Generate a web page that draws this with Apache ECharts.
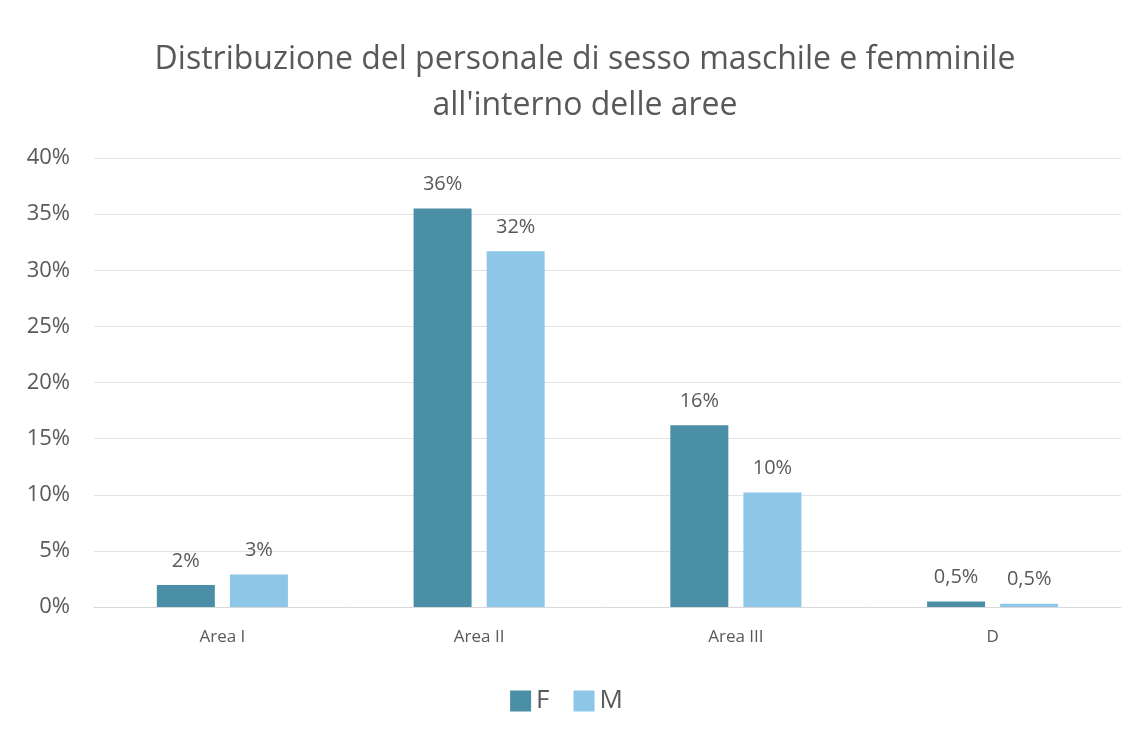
<!DOCTYPE html>
<html lang="it">
<head>
    <meta charset="UTF-8">
    <title>Distribuzione del personale</title>
    <script src="https://cdn.jsdelivr.net/npm/echarts@6/dist/echarts.min.js"></script>
    <style>
        html, body { margin: 0; padding: 0; background: #fff; }
    </style>
</head>
<body>
    <div id="main" style="width: 1133px; height: 739px;"></div>
    <script>
        // dati
        var aree = ['Area I', 'Area II', 'Area III', 'D'];
        var femmine = [1.95, 35.5, 16.2, 0.5];
        var maschi = [2.9, 31.7, 10.2, 0.3];
        var etichetteF = ['2%', '36%', '16%', '0,5%'];
        var etichetteM = ['3%', '32%', '10%', '0,5%'];
        var yTicks = [0, 5, 10, 15, 20, 25, 30, 35, 40];

        var font = '"Open Sans", "Noto Sans", sans-serif';
        var grigio = '#595959';

        var myChart = echarts.init(document.getElementById('main'));

        myChart.setOption({
            animation: false,
            title: {
                text: 'Distribuzione del personale di sesso maschile e femminile\nall\'interno delle aree',
                left: 580,
                textAlign: 'center',
                top: 32,
                textStyle: {
                    fontFamily: font,
                    fontSize: 32,
                    fontWeight: 'normal',
                    color: grigio,
                    lineHeight: 46
                }
            },
            legend: {
                bottom: 20,
                left: 'center',
                itemWidth: 21,
                itemHeight: 21,
                itemGap: 24,
                icon: 'rect',
                textStyle: { fontFamily: font, fontSize: 26, color: grigio },
                data: ['F', 'M']
            },
            grid: {
                left: 94,
                right: 12,
                top: 158,
                bottom: 132
            },
            xAxis: {
                type: 'category',
                data: aree,
                axisLine: { lineStyle: { color: '#d9d9d9' } },
                axisTick: { show: false },
                axisLabel: {
                    fontFamily: font,
                    fontSize: 17,
                    color: grigio,
                    margin: 22
                }
            },
            yAxis: {
                type: 'value',
                min: yTicks[0],
                max: yTicks[yTicks.length - 1],
                interval: 5,
                axisLine: { show: false },
                axisTick: { show: false },
                splitLine: { lineStyle: { color: '#e3e3e3' } },
                axisLabel: {
                    fontFamily: font,
                    fontSize: 22,
                    color: grigio,
                    margin: 24,
                    formatter: '{value}%'
                }
            },
            series: [
                {
                    name: 'F',
                    type: 'bar',
                    data: femmine,
                    barWidth: 58,
                    barGap: '26%',
                    itemStyle: { color: '#4a8fa6' },
                    label: {
                        show: true,
                        position: 'top',
                        distance: 14,
                        fontFamily: font,
                        fontSize: 20,
                        color: grigio,
                        formatter: function (p) { return etichetteF[p.dataIndex]; }
                    }
                },
                {
                    name: 'M',
                    type: 'bar',
                    data: maschi,
                    barWidth: 58,
                    itemStyle: { color: '#8ec6e8' },
                    label: {
                        show: true,
                        position: 'top',
                        distance: 14,
                        fontFamily: font,
                        fontSize: 20,
                        color: grigio,
                        formatter: function (p) { return etichetteM[p.dataIndex]; }
                    }
                }
            ]
        });
    </script>
</body>
</html>
